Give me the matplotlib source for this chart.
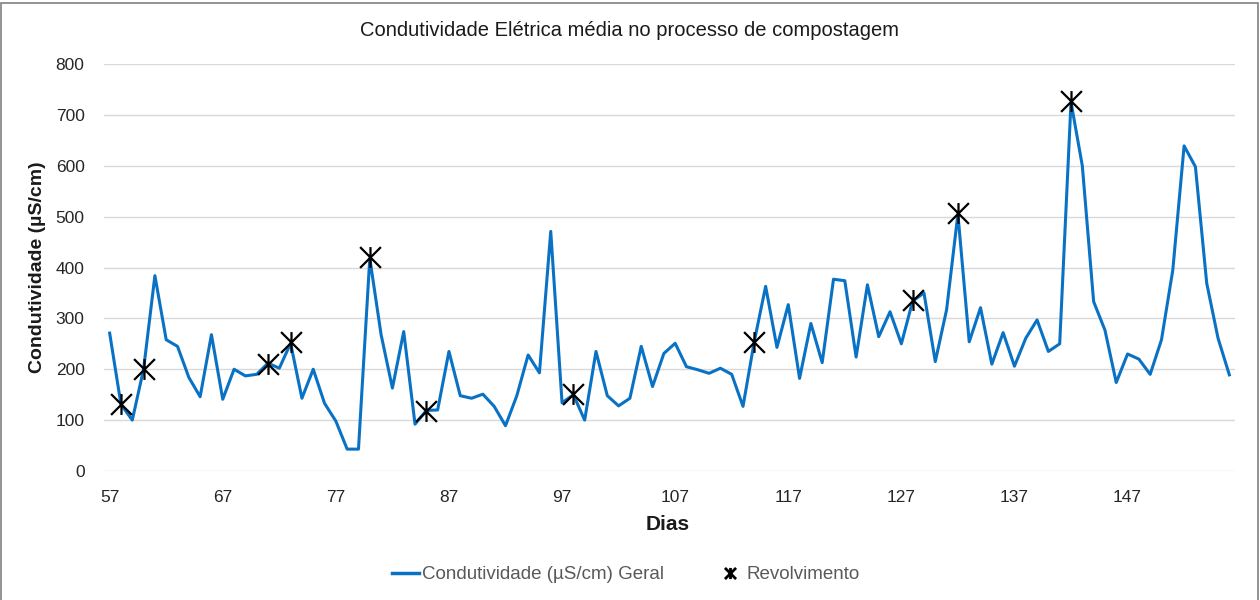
import matplotlib
matplotlib.use('Agg')
import numpy as np
import matplotlib.pyplot as plt
from matplotlib.path import Path
from matplotlib.lines import Line2D

# dias do processo (57 .. 156)
dias = list(range(57, 157))

# condutividade media geral (uS/cm)
condutividade = [
    271, 131, 100, 200, 384, 258, 245, 184, 146, 268,
    141, 200, 187, 190, 212, 202, 251, 143, 200, 133,
    98, 43, 43, 418, 268, 163, 274, 92, 119, 120,
    235, 148, 143, 151, 127, 89, 148, 228, 193, 471,
    134, 150, 100, 235, 148, 128, 143, 245, 166, 231,
    251, 205, 199, 192, 202, 190, 127, 255, 363, 243,
    327, 182, 290, 213, 377, 374, 224, 366, 264, 313,
    250, 334, 350, 215, 317, 505, 254, 321, 210, 272,
    206, 261, 297, 235, 250, 725, 600, 333, 277, 174,
    230, 220, 190, 258, 395, 639, 598, 369, 261, 189,
]

# dias de revolvimento
rev_dias = [58, 60, 71, 73, 80, 85, 98, 114, 128, 132, 142]
rev_valores = [131, 200, 211, 253, 421, 117, 151, 253, 336, 508, 728]

yticks = [0, 100, 200, 300, 400, 500, 600, 700, 800]
xticks = [57, 67, 77, 87, 97, 107, 117, 127, 137, 147]

plt.rcParams['font.family'] = ['Liberation Sans', 'DejaVu Sans']

# marcador tipo "estrela" do Excel: X com barra vertical
star = Path([(-1, -1), (1, 1), (-1, 1), (1, -1), (0, -1), (0, 1)],
            [Path.MOVETO, Path.LINETO, Path.MOVETO, Path.LINETO, Path.MOVETO, Path.LINETO])

fig = plt.figure(figsize=(12.6, 6), dpi=100)
ax = fig.add_axes([104/1260, 1 - 471/600, (1235-104)/1260, (471-64)/600])

ax.plot(dias, condutividade, color='#0A72C4', lw=2.2, zorder=3,
        label='Condutividade (µS/cm) Geral')
ax.plot(rev_dias, rev_valores, ls='none', marker=star, ms=15, mew=1.6,
        color='black', zorder=4, label='Revolvimento')

ax.set_xlim(56.5, 156.5)
ax.set_ylim(0, 800)
ax.set_xticks(xticks)
ax.set_yticks(yticks)
ax.grid(axis='y', color='#D9D9D9', lw=1.0)
ax.set_axisbelow(True)
for s in ax.spines.values():
    s.set_visible(False)
ax.tick_params(length=0, labelsize=12.5, colors='#262626', pad=14)

fig.text(0.5, 0.95, 'Condutividade Elétrica média no processo de compostagem',
         ha='center', va='center', fontsize=14.5, color='#1a1a1a')
fig.text(0.53, 0.125, 'Dias', ha='center', va='center', fontsize=15,
         fontweight='bold', color='#1a1a1a')
fig.text(0.030, 0.555, 'Condutividade (µS/cm)', ha='center', va='center',
         rotation=90, fontsize=14, fontweight='bold', color='#1a1a1a')

handles = [Line2D([], [], color='#0A72C4', lw=2.5),
           Line2D([], [], ls='none', marker=star, ms=8, mew=2.0, color='black')]
fig.legend(handles, ['Condutividade (µS/cm) Geral', 'Revolvimento'],
           loc='center', bbox_to_anchor=(0.497, 0.042), ncol=2, frameon=False,
           fontsize=13.5, handlelength=1.4, handletextpad=0.2, columnspacing=2.8,
           labelcolor='#595959')

# moldura do grafico
fig.add_artist(plt.Rectangle((1/1260, -0.01), 1257/1260, 1 - 3/600 + 0.01,
                             transform=fig.transFigure, fill=False,
                             edgecolor='#808080', lw=1.2))

fig.savefig('out.png', dpi=100)
